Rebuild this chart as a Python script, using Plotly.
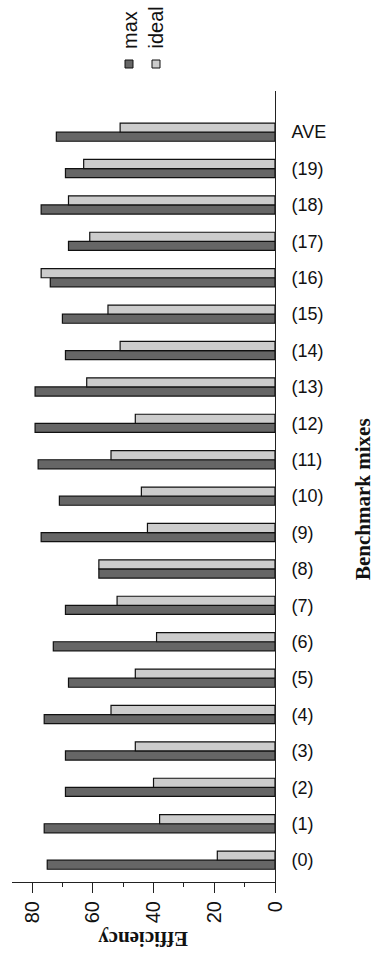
import plotly.graph_objects as go

# Benchmark mixes and their efficiency values
categories = ["(0)", "(1)", "(2)", "(3)", "(4)", "(5)", "(6)", "(7)", "(8)", "(9)",
              "(10)", "(11)", "(12)", "(13)", "(14)", "(15)", "(16)", "(17)", "(18)", "(19)", "AVE"]
max_values = [75, 76, 69, 69, 76, 68, 73, 69, 58, 77,
              71, 78, 79, 79, 69, 70, 74, 68, 77, 69, 72]
ideal_values = [19, 38, 40, 46, 54, 46, 39, 52, 58, 42,
                44, 54, 46, 62, 51, 55, 77, 61, 68, 63, 51]
series_names = ["max", "ideal"]
x_ticks = [0, 20, 40, 60, 80]

W, H = 381, 961
ML, MR, MT, MB = 12, 106, 91, 79
PW, PH = W - ML - MR, H - MT - MB

SANS = "Liberation Sans"
SERIF = "Liberation Serif"


def px(x, y):
    """Convert page pixel coordinates to paper coordinates."""
    return (x - ML) / PW, 1 - (y - MT) / PH


DARK, LIGHT = "#666666", "#cccccc"

fig = go.Figure()
fig.add_trace(go.Bar(
    y=categories, x=max_values, name=series_names[0], orientation="h",
    marker=dict(color=DARK, line=dict(color="#111111", width=1.2)),
))
fig.add_trace(go.Bar(
    y=categories, x=ideal_values, name=series_names[1], orientation="h",
    marker=dict(color=LIGHT, line=dict(color="#111111", width=1.2)),
))

fig.update_layout(
    width=W, height=H,
    margin=dict(l=ML, r=MR, t=MT, b=MB, pad=0),
    paper_bgcolor="white", plot_bgcolor="white",
    barmode="group", bargap=0.5, bargroupgap=0,
    showlegend=False,
    font=dict(family=SANS, color="#111111"),
)

fig.update_xaxes(
    range=[86.6, 0],
    tickvals=x_ticks, ticktext=[str(v) for v in x_ticks],
    tickangle=-90, tickfont=dict(family=SANS, size=20),
    ticks="outside", ticklen=10, tickwidth=1, tickcolor="#222222",
    minor=dict(dtick=10, tick0=0, ticks="outside", ticklen=4, tickwidth=1, tickcolor="#222222"),
    showline=True, linecolor="#222222", linewidth=1,
    showgrid=False, zeroline=False,
)
fig.update_yaxes(
    type="category", categoryorder="array", categoryarray=categories,
    range=[-0.6, 21.13],
    side="right", ticks="", ticklabelstandoff=12,
    tickfont=dict(family=SANS, size=18),
    showline=True, linecolor="#222222", linewidth=1,
    showgrid=False, zeroline=False,
)

# Axis titles
ex, ey = px(143, 939)
fig.add_annotation(text="<b>Efficiency</b>", x=ex, y=ey, xref="paper", yref="paper",
                   xanchor="center", yanchor="middle", textangle=180, showarrow=False,
                   font=dict(family=SERIF, size=21, color="#111111"))
bx, by = px(363, 499)
fig.add_annotation(text="<b>Benchmark mixes</b>", x=bx, y=by, xref="paper", yref="paper",
                   xanchor="center", yanchor="middle", textangle=-90, showarrow=False,
                   font=dict(family=SERIF, size=21, color="#111111"))

# Legend: rotated labels with swatches beneath
legend_items = [(series_names[0], DARK, 130, 30, 125), (series_names[1], LIGHT, 155, 27.5, 152)]
for name, color, tx, ty, sx in legend_items:
    ax, ay = px(tx, ty)
    fig.add_annotation(text=name, x=ax, y=ay, xref="paper", yref="paper",
                       xanchor="center", yanchor="middle", textangle=-90, showarrow=False,
                       font=dict(family=SANS, size=20, color="#111111"))
    x0, y0 = px(sx, 60)
    x1, y1 = px(sx + 8, 68)
    fig.add_shape(type="rect", xref="paper", yref="paper", x0=x0, x1=x1, y0=y1, y1=y0,
                  fillcolor=color, line=dict(color="#111111", width=1))

fig.write_html("out.html")
